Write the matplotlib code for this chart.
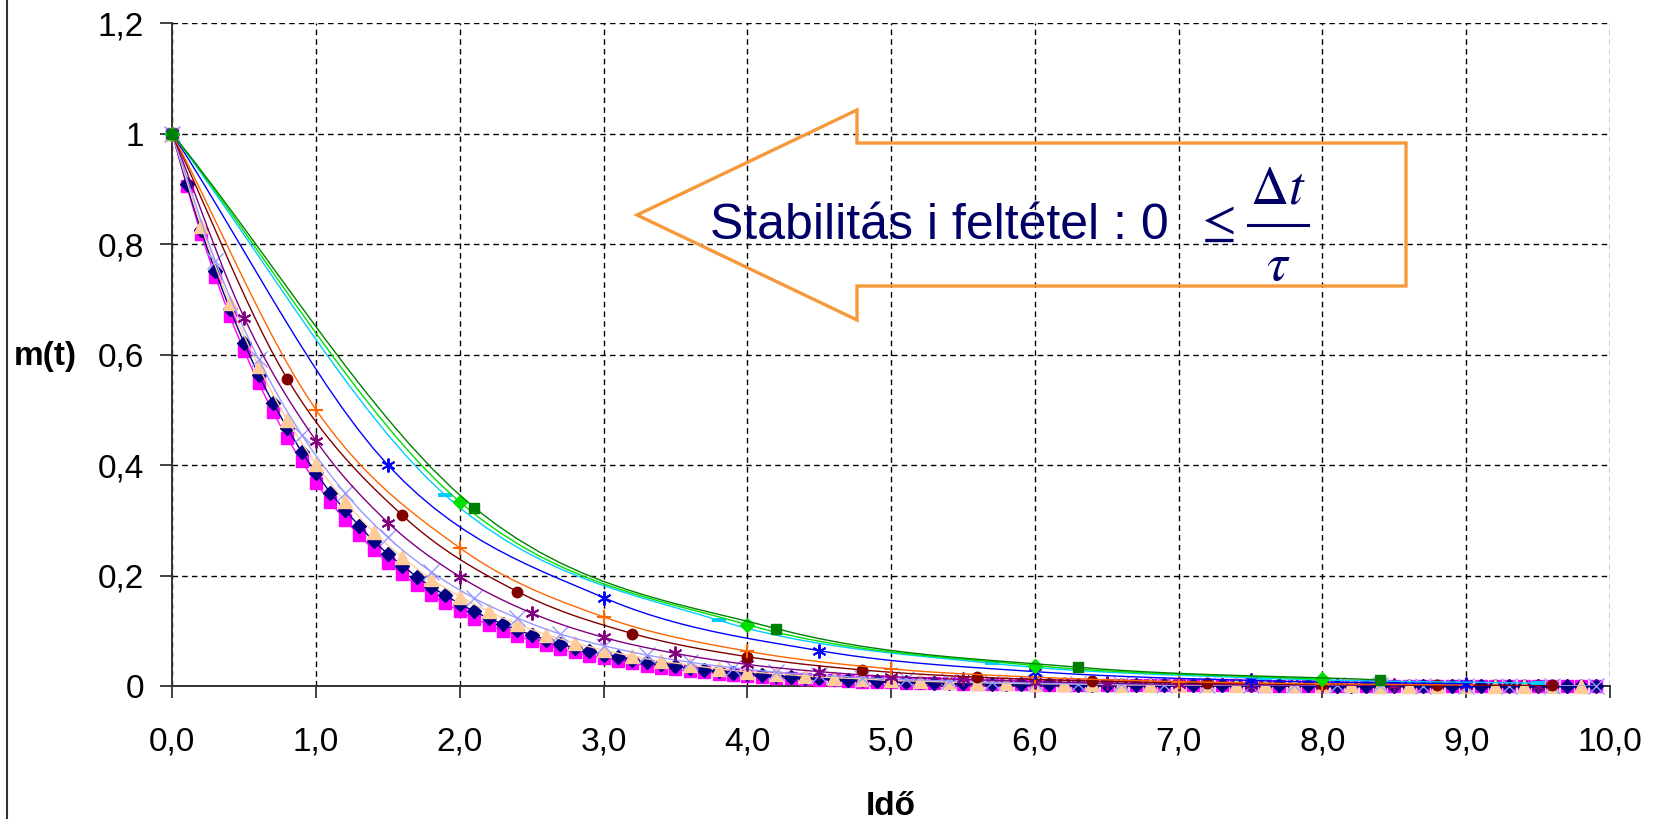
import numpy as np
import matplotlib
matplotlib.use("Agg")
import matplotlib.pyplot as plt
from matplotlib.lines import Line2D
from matplotlib.patches import Polygon

plt.rcParams["font.family"] = ["Liberation Sans", "DejaVu Sans"]
plt.rcParams["mathtext.fontset"] = "stix"

W, H = 1662, 819

# ---------------------------------------------------------------------------
# data: m(t) for different time steps
# ---------------------------------------------------------------------------
X_TICKS = [0, 1, 2, 3, 4, 5, 6, 7, 8, 9, 10]
X_LABELS = ["0,0", "1,0", "2,0", "3,0", "4,0", "5,0", "6,0", "7,0", "8,0", "9,0", "10,0"]
Y_TICKS = [0, 0.2, 0.4, 0.6, 0.8, 1.0, 1.2]
Y_LABELS = ["0", "0,2", "0,4", "0,6", "0,8", "1", "1,2"]

# time step of every series
STEPS = [0.1, 0.1, 0.2, 0.3, 0.5, 0.8, 1.0, 1.5, 1.9, 2.0, 2.1]

m_exact = [
    1.000, 0.905, 0.819, 0.741, 0.670, 0.607, 0.549, 0.497, 0.449, 0.407,
    0.368, 0.333, 0.301, 0.273, 0.247, 0.223, 0.202, 0.183, 0.165, 0.150,
    0.135, 0.122, 0.111, 0.100, 0.091, 0.082, 0.074, 0.067, 0.061, 0.055,
    0.050, 0.045, 0.041, 0.037, 0.033, 0.030, 0.027, 0.025, 0.022, 0.020,
    0.018, 0.017, 0.015, 0.014, 0.012, 0.011, 0.010, 0.009, 0.008, 0.007,
    0.007, 0.006, 0.006, 0.005, 0.005, 0.004, 0.004, 0.003, 0.003, 0.003,
    0.002, 0.002, 0.002, 0.002, 0.002, 0.002, 0.001, 0.001, 0.001, 0.001,
    0.001, 0.001, 0.001, 0.001, 0.001, 0.001, 0.000, 0.000, 0.000, 0.000,
    0.000, 0.000, 0.000, 0.000, 0.000, 0.000, 0.000, 0.000, 0.000, 0.000,
    0.000, 0.000, 0.000, 0.000, 0.000, 0.000, 0.000, 0.000, 0.000, 0.000,
]
m_dt01 = [
    1.000, 0.909, 0.826, 0.751, 0.683, 0.621, 0.564, 0.513, 0.467, 0.424,
    0.386, 0.350, 0.319, 0.290, 0.263, 0.239, 0.218, 0.198, 0.180, 0.164,
    0.149, 0.135, 0.123, 0.112, 0.102, 0.092, 0.084, 0.076, 0.069, 0.063,
    0.057, 0.052, 0.047, 0.043, 0.039, 0.036, 0.032, 0.029, 0.027, 0.024,
    0.022, 0.020, 0.018, 0.017, 0.015, 0.014, 0.012, 0.011, 0.010, 0.009,
    0.009, 0.008, 0.007, 0.006, 0.006, 0.005, 0.005, 0.004, 0.004, 0.004,
    0.003, 0.003, 0.003, 0.002, 0.002, 0.002, 0.002, 0.002, 0.002, 0.001,
    0.001, 0.001, 0.001, 0.001, 0.001, 0.001, 0.001, 0.001, 0.001, 0.001,
    0.000, 0.000, 0.000, 0.000, 0.000, 0.000, 0.000, 0.000, 0.000, 0.000,
    0.000, 0.000, 0.000, 0.000, 0.000, 0.000, 0.000, 0.000, 0.000, 0.000,
]
m_dt02 = [
    1.000, 0.833, 0.694, 0.579, 0.482, 0.402, 0.335, 0.279, 0.233, 0.194,
    0.162, 0.135, 0.112, 0.093, 0.078, 0.065, 0.054, 0.045, 0.038, 0.031,
    0.026, 0.022, 0.018, 0.015, 0.013, 0.010, 0.009, 0.007, 0.006, 0.005,
    0.004, 0.004, 0.003, 0.002, 0.002, 0.002, 0.001, 0.001, 0.001, 0.001,
    0.001, 0.001, 0.000, 0.000, 0.000, 0.000, 0.000, 0.000, 0.000, 0.000,
]
m_dt03 = [
    1.000, 0.769, 0.592, 0.455, 0.350, 0.269, 0.207, 0.159, 0.123, 0.094,
    0.073, 0.056, 0.043, 0.033, 0.025, 0.020, 0.015, 0.012, 0.009, 0.007,
    0.005, 0.004, 0.003, 0.002, 0.002, 0.001, 0.001, 0.001, 0.001, 0.000,
    0.000, 0.000, 0.000, 0.000,
]
m_dt05 = [
    1.000, 0.667, 0.444, 0.296, 0.198, 0.132, 0.088, 0.059, 0.039, 0.026,
    0.017, 0.012, 0.008, 0.005, 0.003, 0.002, 0.002, 0.001, 0.001, 0.000,
]
m_dt08 = [1.000, 0.556, 0.309, 0.171, 0.095, 0.053, 0.029, 0.016, 0.009, 0.005, 0.003, 0.002, 0.001]
m_dt10 = [1.000, 0.500, 0.250, 0.125, 0.063, 0.031, 0.016, 0.008, 0.004, 0.002]
m_dt15 = [1.000, 0.400, 0.160, 0.064, 0.026, 0.010, 0.004]
m_dt19 = [1.000, 0.345, 0.119, 0.041, 0.014, 0.005]
m_dt20 = [1.000, 0.333, 0.111, 0.037, 0.012]
m_dt21 = [1.000, 0.323, 0.104, 0.034, 0.011]

SERIES = [m_exact, m_dt01, m_dt02, m_dt03, m_dt05, m_dt08, m_dt10, m_dt15, m_dt19, m_dt20, m_dt21]

# (colour, marker, marker size, marker edge width)
STYLES = [
    ("#FF00FF", "s", 8.0, 1.0),
    ("#000080", "D", 7.5, 1.0),
    ("#FFCC99", "^", 10.0, 1.0),
    ("#9999FF", "x", 11.0, 1.0),
    ("#800080", (6, 2, 0), 10.0, 1.4),
    ("#800000", "o", 7.5, 1.0),
    ("#FF6600", "+", 10.0, 1.5),
    ("#0000FF", (6, 2, 0), 10.0, 1.4),
    ("#00CCFF", "_", 10.0, 2.8),
    ("#00E000", "D", 7.5, 1.0),
    ("#008000", "s", 6.5, 1.0),
]


def smooth(x, y, n=14):
    """Catmull-Rom curve through the points (Excel's smoothed line look)."""
    x = np.asarray(x, float)
    y = np.asarray(y, float)
    px = np.concatenate([[2 * x[0] - x[1]], x, [2 * x[-1] - x[-2]]])
    py = np.concatenate([[2 * y[0] - y[1]], y, [2 * y[-1] - y[-2]]])
    s = np.linspace(0, 1, n, endpoint=False)
    xs, ys = [], []
    for i in range(len(x) - 1):
        for p, out in ((px, xs), (py, ys)):
            p0, p1, p2, p3 = p[i:i + 4]
            out.append(0.5 * (2 * p1 + (-p0 + p2) * s
                              + (2 * p0 - 5 * p1 + 4 * p2 - p3) * s ** 2
                              + (-p0 + 3 * p1 - 3 * p2 + p3) * s ** 3))
    xs.append([x[-1]])
    ys.append([y[-1]])
    return np.concatenate(xs), np.concatenate(ys)


def fx(px):
    return px / W


def fy(py):
    return 1 - py / H


fig = plt.figure(figsize=(W / 100, H / 100), dpi=100)
ax = fig.add_axes([fx(172.3), fy(686), (1610 - 172.3) / W, (686 - 23.3) / H])

for k, (vals, dt, (col, mk, ms, mew)) in enumerate(zip(SERIES, STEPS, STYLES)):
    t = np.round(np.arange(len(vals)) * dt, 2)
    sx, sy = smooth(t, vals)
    ax.plot(sx, sy, color=col, lw=1.0, zorder=3 + k)
    ax.plot(t, vals, ls="none", marker=mk, ms=ms, mew=mew,
            color=col, mec=col, mfc=col, clip_on=False, zorder=3 + k)

ax.set_xlim(0, 10)
ax.set_ylim(0, 1.2)
ax.set_xticks(X_TICKS)
ax.set_xticklabels(X_LABELS)
ax.set_yticks(Y_TICKS)
ax.set_yticklabels(Y_LABELS)
ax.tick_params(axis="both", direction="out", length=8.5, width=1.3,
               color="#333333", labelsize=24, labelcolor="black")
ax.tick_params(axis="x", pad=21)
ax.tick_params(axis="y", pad=12)
ax.grid(True, color="black", linestyle=(0, (4, 3)), linewidth=1.0)
ax.set_axisbelow(True)
for side in ("top", "right"):
    ax.spines[side].set_visible(False)
for side in ("left", "bottom"):
    ax.spines[side].set_color("#333333")
    ax.spines[side].set_linewidth(1.4)

# axis titles
fig.text(fx(14), fy(356), "m(t)", fontsize=24, fontweight="bold", ha="left", va="center")
fig.text(fx(891), fy(815), "Idő", fontsize=24, fontweight="bold", ha="center", va="baseline")

# chart border on the left
fig.add_artist(Line2D([fx(7), fx(7)], [0, 1], color="#333333", lw=1.5))

# arrow callout
arrow = [(637, 215), (857, 110), (857, 143), (1406, 143), (1406, 286),
         (857, 286), (857, 320)]
fig.add_artist(Polygon([(fx(a), fy(b)) for a, b in arrow], closed=True, fill=False,
                       edgecolor="#F7993A", lw=2.4, transform=fig.transFigure, zorder=20))

navy = "#000066"
fig.text(fx(710), fy(239), "Stabilitás i feltétel : 0", fontsize=36,
         color=navy, ha="left", va="baseline", zorder=21)
fig.text(fx(1194), fy(237), r"$\leq$", fontsize=36, color=navy,
         ha="left", va="baseline", zorder=21)
fig.text(fx(1278), fy(203), r"$\Delta t$", fontsize=38, color=navy,
         ha="center", va="baseline", zorder=21)
fig.add_artist(Line2D([fx(1248), fx(1308)], [fy(225), fy(225)], color=navy, lw=2.2, zorder=21))
fig.text(fx(1278), fy(280), r"$\tau$", fontsize=38, color=navy,
         ha="center", va="baseline", zorder=21)

fig.savefig("out.png", dpi=100)
